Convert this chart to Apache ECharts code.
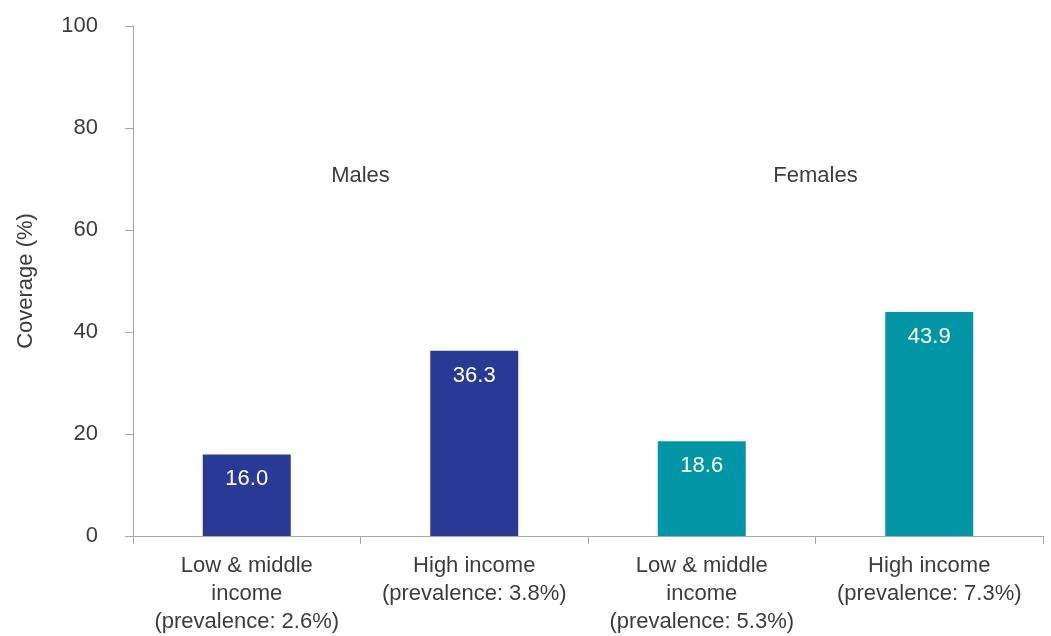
<!DOCTYPE html>
<html>
<head>
<meta charset="utf-8">
<script src="https://cdn.jsdelivr.net/npm/echarts@6/dist/echarts.min.js"></script>
<style>html,body{margin:0;padding:0;background:#fff}#c{width:1051px;height:636px}</style>
</head>
<body>
<div id="c"></div>
<script>
const categories = [
  'Low & middle\nincome\n(prevalence: 2.6%)',
  'High income\n(prevalence: 3.8%)',
  'Low & middle\nincome\n(prevalence: 5.3%)',
  'High income\n(prevalence: 7.3%)'
];
const malesValues = [16.0, 36.3, '-', '-'];
const femalesValues = ['-', '-', 18.6, 43.9];
const groupLabels = ['Males', 'Females'];
const yTicks = [0, 20, 40, 60, 80, 100];
const yAxisTitle = 'Coverage (%)';

const FONT = '"Liberation Sans", Arial, sans-serif';
const TXT = '#3c3c3c';
const AXIS = '#a6a6a6';

const chart = echarts.init(document.getElementById('c'), null, {renderer: 'canvas'});
const labelCfg = {
  show: true, position: 'insideTop', distance: 14, color: '#ffffff',
  fontFamily: FONT, fontSize: 22, formatter: p => Number(p.value).toFixed(1)
};
chart.setOption({
  animation: false,
  backgroundColor: '#ffffff',
  grid: {left: 133, right: 8, top: 26, bottom: 94, containLabel: false},
  xAxis: {
    type: 'category', data: categories,
    axisLine: {lineStyle: {color: AXIS, width: 1}},
    axisTick: {show: true, length: 8, lineStyle: {color: AXIS}},
    axisLabel: {color: TXT, fontFamily: FONT, fontSize: 22, lineHeight: 28, margin: 16, interval: 0}
  },
  yAxis: {
    type: 'value', min: yTicks[0], max: yTicks[yTicks.length - 1], interval: 20,
    name: yAxisTitle, nameLocation: 'middle', nameGap: 96,
    nameTextStyle: {color: TXT, fontFamily: FONT, fontSize: 22},
    axisLine: {show: true, lineStyle: {color: AXIS, width: 1}},
    axisTick: {show: true, length: 8, lineStyle: {color: AXIS}},
    splitLine: {show: false},
    axisLabel: {color: TXT, fontFamily: FONT, fontSize: 22, margin: 35}
  },
  series: [
    {name: groupLabels[0], type: 'bar', stack: 'g', data: malesValues, barWidth: 88,
     itemStyle: {color: '#283a96'}, label: labelCfg},
    {name: groupLabels[1], type: 'bar', stack: 'g', data: femalesValues, barWidth: 88,
     itemStyle: {color: '#0096a6'}, label: labelCfg}
  ]
});

function placeGroupLabels() {
  const y = chart.convertToPixel({yAxisIndex: 0}, 70.6);
  const elems = groupLabels.map((g, i) => {
    const a = chart.convertToPixel({xAxisIndex: 0}, categories[i * 2]);
    const b = chart.convertToPixel({xAxisIndex: 0}, categories[i * 2 + 1]);
    return {
      type: 'text', x: (a + b) / 2, y: y,
      style: {text: g, fill: TXT, font: '22px ' + FONT, align: 'center', verticalAlign: 'middle'}
    };
  });
  chart.setOption({graphic: elems});
}
placeGroupLabels();
</script>
</body>
</html>
